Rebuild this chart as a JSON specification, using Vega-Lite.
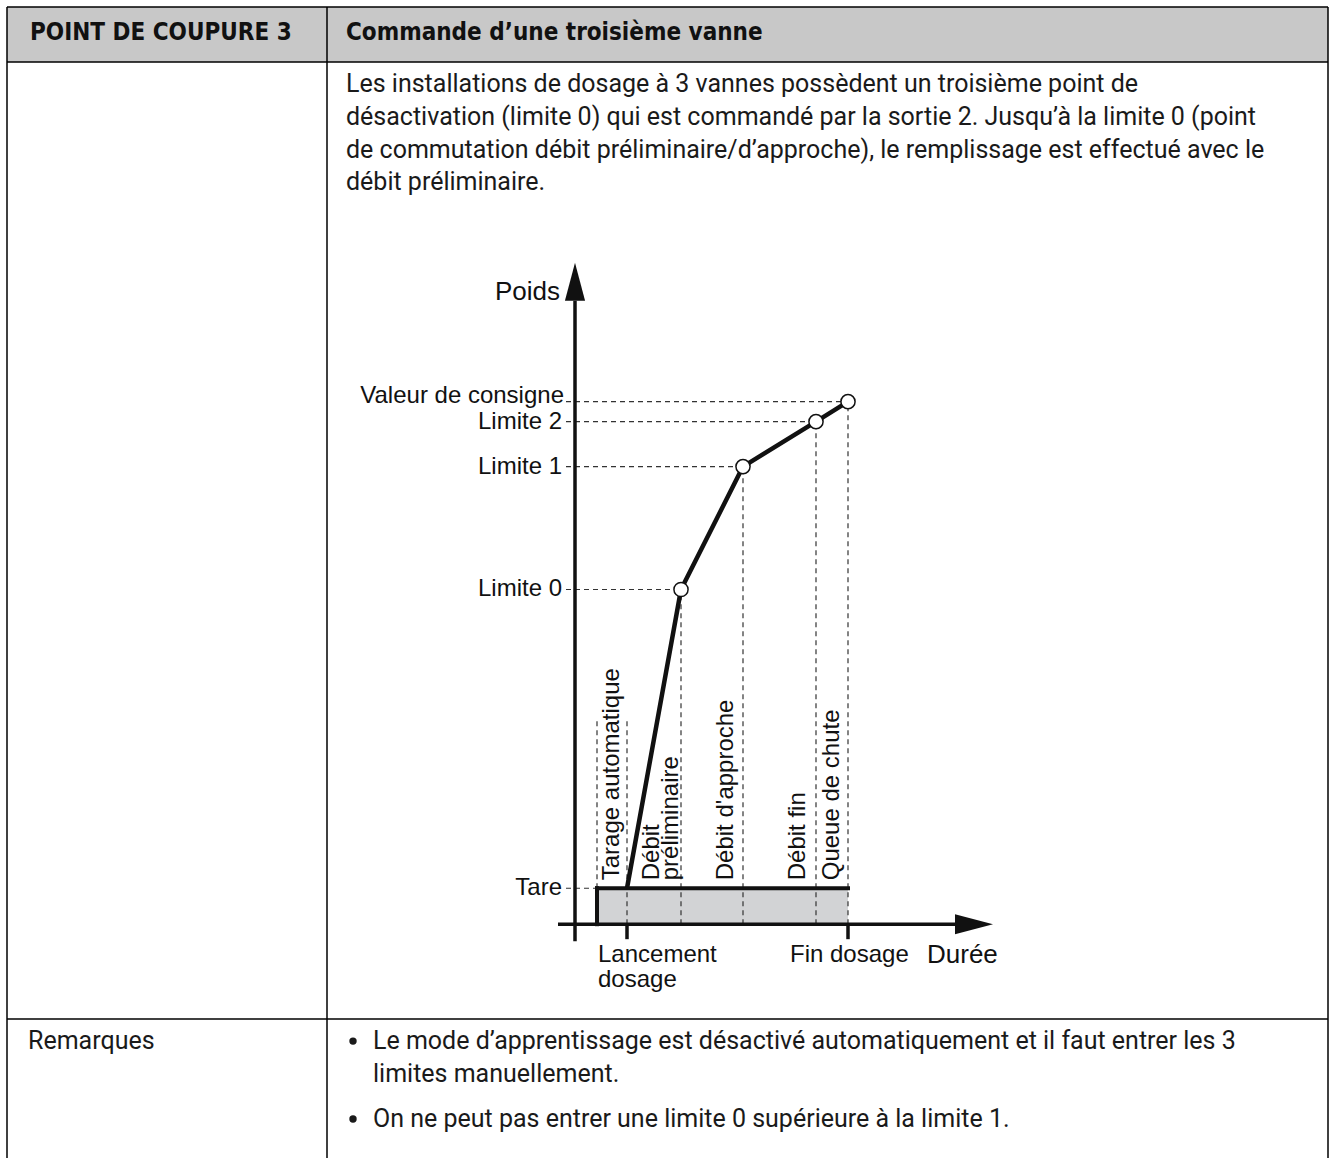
{
  "$schema": "https://vega.github.io/schema/vega-lite/v6.json",
  "width": 1335,
  "height": 1159,
  "autosize": {"type": "fit", "contains": "padding"},
  "padding": 0,
  "background": "white",
  "config": {"view": {"stroke": null}},
  "datasets": {
    "header": [{"x1": -56.8, "x2": 75.3, "y1": 86.3, "y2": 91.8}],
    "frame": [
      {"x1": -56.8, "x2": 75.3, "y1": 91.8, "y2": 91.8},
      {"x1": -56.8, "x2": -56.8, "y1": 91.8, "y2": -23.4},
      {"x1": 75.3, "x2": 75.3, "y1": 91.8, "y2": -23.4},
      {"x1": -24.8, "x2": -24.8, "y1": 91.8, "y2": -23.4},
      {"x1": -56.8, "x2": 75.3, "y1": 86.3, "y2": 86.3},
      {"x1": -56.8, "x2": 75.3, "y1": -9.5, "y2": -9.5}
    ],
    "titles": [
      {"x": -54.5, "y": 89.2, "label": "POINT DE COUPURE 3"},
      {"x": -22.9, "y": 89.2, "label": "Commande d’une troisième vanne"}
    ],
    "body": [
      {"x": -22.9, "y": 84.1, "label": "Les installations de dosage à 3 vannes possèdent un troisième point de"},
      {"x": -22.9, "y": 80.8, "label": "désactivation (limite 0) qui est commandé par la sortie 2. Jusqu’à la limite 0 (point"},
      {"x": -22.9, "y": 77.5, "label": "de commutation débit préliminaire/d’approche), le remplissage est effectué avec le"},
      {"x": -22.9, "y": 74.3, "label": "débit préliminaire."},
      {"x": -54.7, "y": -11.7, "label": "Remarques"},
      {"x": -20.2, "y": -11.7, "label": "Le mode d’apprentissage est désactivé automatiquement et il faut entrer les 3"},
      {"x": -20.2, "y": -15.0, "label": "limites manuellement."},
      {"x": -20.2, "y": -19.5, "label": "On ne peut pas entrer une limite 0 supérieure à la limite 1."}
    ],
    "bullets": [
      {"x": -22.2, "y": -11.7},
      {"x": -22.2, "y": -19.5}
    ],
    "curve": [
      {"t": 5.2, "w": 3.6, "label": "Lancement"},
      {"t": 10.6, "w": 33.5, "label": "Limite 0"},
      {"t": 16.8, "w": 45.8, "label": "Limite 1"},
      {"t": 24.1, "w": 50.3, "label": "Limite 2"},
      {"t": 27.3, "w": 52.3, "label": "Valeur de consigne"}
    ],
    "levels": [
      {"t0": -0.9, "t": 2.2, "w": 3.6, "label": "Tare"},
      {"t0": -0.9, "t": 10.6, "w": 33.5, "label": "Limite 0"},
      {"t0": -0.9, "t": 16.8, "w": 45.8, "label": "Limite 1"},
      {"t0": -0.9, "t": 24.1, "w": 50.3, "label": "Limite 2"},
      {"t0": -0.9, "t": 27.3, "w": 52.3, "label": "Valeur de consigne"}
    ],
    "phases": [
      {"t": 2.2, "w0": 3.6, "w1": 20.5},
      {"t": 5.2, "w0": 0, "w1": 20.5},
      {"t": 10.6, "w0": 0, "w1": 33.5},
      {"t": 16.8, "w0": 0, "w1": 45.8},
      {"t": 24.1, "w0": 0, "w1": 50.3},
      {"t": 27.3, "w0": 0, "w1": 52.3}
    ],
    "tare": [{"t0": 2.2, "t1": 27.3, "w0": 0, "w1": 3.6}],
    "axes": [
      {"x1": 0, "x2": 0, "y1": -1.7, "y2": 62.4},
      {"x1": -1.7, "x2": 38.0, "y1": 0, "y2": 0},
      {"x1": 5.2, "x2": 5.2, "y1": 0, "y2": -1.5},
      {"x1": 27.3, "x2": 27.3, "y1": 0, "y2": -1.5}
    ],
    "arrowY": [{"t": 0, "w": 64.3}],
    "arrowX": [{"t": 39.9, "w": 0}],
    "phaseLabels": [
      {"t": 3.7, "label": "Tarage automatique"},
      {"t": 7.7, "label": "Débit"},
      {"t": 9.6, "label": "préliminaire"},
      {"t": 15.1, "label": "Débit d'approche"},
      {"t": 22.3, "label": "Débit fin"},
      {"t": 25.7, "label": "Queue de chute"}
    ],
    "timeLabels": [
      {"t": 2.3, "w": -3.1, "label": "Lancement"},
      {"t": 2.3, "w": -5.6, "label": "dosage"},
      {"t": 21.5, "w": -3.1, "label": "Fin dosage"}
    ],
    "yTitle": [{"t": -1.5, "w": 63.3, "label": "Poids"}],
    "xTitle": [{"t": 35.2, "w": -3.1, "label": "Durée"}]
  },
  "layer": [
    {
      "data": {"name": "header"},
      "mark": {"type": "rect", "color": "#c8c8c8"},
      "encoding": {
        "x": {"field": "x1", "type": "quantitative", "scale": {"domain": [-57.5, 76], "nice": false, "zero": false}, "axis": null},
        "x2": {"field": "x2"},
        "y": {"field": "y1", "type": "quantitative", "scale": {"domain": [-23.4, 92.5], "nice": false, "zero": false}, "axis": null},
        "y2": {"field": "y2"}
      }
    },
    {
      "data": {"name": "frame"},
      "mark": {"type": "rule", "color": "#000000", "strokeWidth": 1.5},
      "encoding": {
        "x": {"field": "x1", "type": "quantitative"},
        "x2": {"field": "x2"},
        "y": {"field": "y1", "type": "quantitative"},
        "y2": {"field": "y2"}
      }
    },
    {
      "data": {"name": "tare"},
      "mark": {"type": "rect", "color": "#d2d3d5"},
      "encoding": {
        "x": {"field": "t0", "type": "quantitative"},
        "x2": {"field": "t1"},
        "y": {"field": "w0", "type": "quantitative"},
        "y2": {"field": "w1"}
      }
    },
    {
      "data": {"name": "levels"},
      "mark": {"type": "rule", "color": "#333333", "strokeWidth": 1.2, "strokeDash": [5, 4]},
      "encoding": {
        "x": {"field": "t0", "type": "quantitative"},
        "x2": {"field": "t"},
        "y": {"field": "w", "type": "quantitative"}
      }
    },
    {
      "data": {"name": "phases"},
      "mark": {"type": "rule", "color": "#333333", "strokeWidth": 1.2, "strokeDash": [5, 4]},
      "encoding": {
        "x": {"field": "t", "type": "quantitative"},
        "y": {"field": "w0", "type": "quantitative"},
        "y2": {"field": "w1"}
      }
    },
    {
      "data": {"name": "axes"},
      "mark": {"type": "rule", "color": "#111111", "strokeWidth": 3.5},
      "encoding": {
        "x": {"field": "x1", "type": "quantitative"},
        "x2": {"field": "x2"},
        "y": {"field": "y1", "type": "quantitative"},
        "y2": {"field": "y2"}
      }
    },
    {
      "data": {"name": "arrowY"},
      "mark": {"type": "point", "shape": "M0,-1L0.53,1L-0.53,1Z", "filled": true, "color": "#111111", "opacity": 1, "size": 1444},
      "encoding": {
        "x": {"field": "t", "type": "quantitative"},
        "y": {"field": "w", "type": "quantitative"}
      }
    },
    {
      "data": {"name": "arrowX"},
      "mark": {"type": "point", "shape": "M1,0L-1,0.53L-1,-0.53Z", "filled": true, "color": "#111111", "opacity": 1, "size": 1444},
      "encoding": {
        "x": {"field": "t", "type": "quantitative"},
        "y": {"field": "w", "type": "quantitative"}
      }
    },
    {
      "data": {"name": "tare"},
      "mark": {"type": "rule", "color": "#111111", "strokeWidth": 4, "strokeCap": "square"},
      "encoding": {
        "x": {"field": "t0", "type": "quantitative"},
        "y": {"field": "w0", "type": "quantitative"},
        "y2": {"field": "w1"}
      }
    },
    {
      "data": {"name": "tare"},
      "mark": {"type": "rule", "color": "#111111", "strokeWidth": 4, "strokeCap": "square"},
      "encoding": {
        "x": {"field": "t0", "type": "quantitative"},
        "x2": {"field": "t1"},
        "y": {"field": "w1", "type": "quantitative"}
      }
    },
    {
      "data": {"name": "curve"},
      "mark": {"type": "line", "color": "#111111", "strokeWidth": 4.5, "strokeJoin": "round"},
      "encoding": {
        "x": {"field": "t", "type": "quantitative"},
        "y": {"field": "w", "type": "quantitative"},
        "order": {"field": "t", "type": "quantitative"}
      }
    },
    {
      "data": {"name": "curve"},
      "transform": [{"filter": "datum.t > 6"}],
      "mark": {"type": "point", "shape": "circle", "filled": true, "fill": "white", "stroke": "#111111", "strokeWidth": 1.5, "opacity": 1, "size": 200},
      "encoding": {
        "x": {"field": "t", "type": "quantitative"},
        "y": {"field": "w", "type": "quantitative"}
      }
    },
    {
      "data": {"name": "bullets"},
      "mark": {"type": "point", "shape": "circle", "filled": true, "color": "#1a1a1a", "opacity": 1, "size": 55},
      "encoding": {
        "x": {"field": "x", "type": "quantitative"},
        "y": {"field": "y", "type": "quantitative"}
      }
    },
    {
      "data": {"name": "titles"},
      "mark": {"type": "text", "align": "left", "baseline": "middle", "font": "DejaVu Sans Condensed", "fontWeight": "bold", "fontSize": 24, "color": "#111111"},
      "encoding": {
        "x": {"field": "x", "type": "quantitative"},
        "y": {"field": "y", "type": "quantitative"},
        "text": {"field": "label"}
      }
    },
    {
      "data": {"name": "body"},
      "mark": {"type": "text", "align": "left", "baseline": "middle", "font": "Roboto", "fontSize": 25, "color": "#1a1a1a"},
      "encoding": {
        "x": {"field": "x", "type": "quantitative"},
        "y": {"field": "y", "type": "quantitative"},
        "text": {"field": "label"}
      }
    },
    {
      "data": {"name": "levels"},
      "transform": [{"filter": "datum.label !== 'Valeur de consigne'"}],
      "mark": {"type": "text", "align": "right", "baseline": "middle", "font": "Liberation Sans", "fontSize": 24, "color": "#111111", "x": {"expr": "scale('x', -1.3)"}},
      "encoding": {
        "y": {"field": "w", "type": "quantitative"},
        "text": {"field": "label"}
      }
    },
    {
      "data": {"name": "levels"},
      "transform": [{"filter": "datum.label === 'Valeur de consigne'"}],
      "mark": {"type": "text", "align": "right", "baseline": "alphabetic", "dy": 1, "font": "Liberation Sans", "fontSize": 24, "color": "#111111", "x": {"expr": "scale('x', -1.1)"}},
      "encoding": {
        "y": {"field": "w", "type": "quantitative"},
        "text": {"field": "label"}
      }
    },
    {
      "data": {"name": "phaseLabels"},
      "mark": {"type": "text", "align": "left", "baseline": "middle", "angle": 270, "font": "Liberation Sans", "fontSize": 24, "color": "#111111", "y": {"expr": "scale('y', 4.4)"}},
      "encoding": {
        "x": {"field": "t", "type": "quantitative"},
        "text": {"field": "label"}
      }
    },
    {
      "data": {"name": "timeLabels"},
      "mark": {"type": "text", "align": "left", "baseline": "middle", "font": "Liberation Sans", "fontSize": 24, "color": "#111111"},
      "encoding": {
        "x": {"field": "t", "type": "quantitative"},
        "y": {"field": "w", "type": "quantitative"},
        "text": {"field": "label"}
      }
    },
    {
      "data": {"name": "yTitle"},
      "mark": {"type": "text", "align": "right", "baseline": "middle", "font": "Liberation Sans", "fontSize": 26, "color": "#111111"},
      "encoding": {
        "x": {"field": "t", "type": "quantitative"},
        "y": {"field": "w", "type": "quantitative"},
        "text": {"field": "label"}
      }
    },
    {
      "data": {"name": "xTitle"},
      "mark": {"type": "text", "align": "left", "baseline": "middle", "font": "Liberation Sans", "fontSize": 26, "color": "#111111"},
      "encoding": {
        "x": {"field": "t", "type": "quantitative"},
        "y": {"field": "w", "type": "quantitative"},
        "text": {"field": "label"}
      }
    }
  ]
}
